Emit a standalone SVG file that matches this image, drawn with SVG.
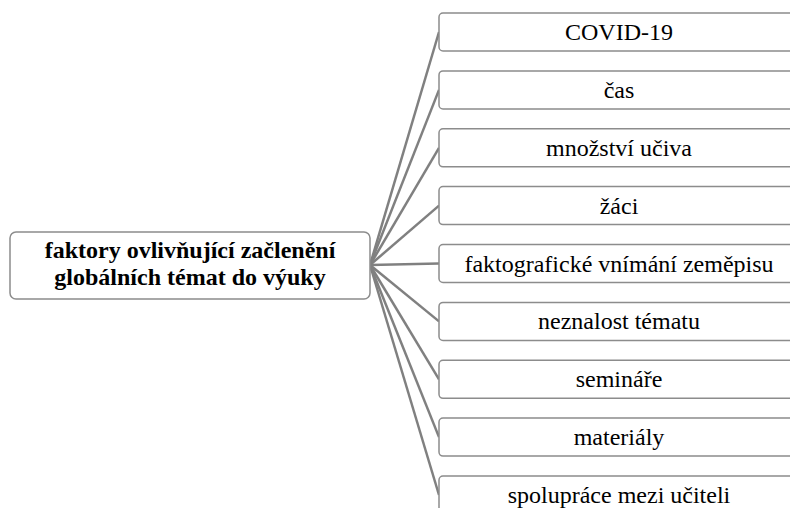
<svg xmlns="http://www.w3.org/2000/svg" width="790" height="508" viewBox="0 0 790 508">
<style>
.box{fill:#fff;stroke:#8c8c8c;stroke-width:1.5}
.t{font-family:"Liberation Serif","Times New Roman",serif;font-size:24px;fill:#000;text-anchor:middle}
.b{font-weight:bold}
.c{stroke:#808080;stroke-width:2.5;fill:none}
</style>
<rect width="790" height="508" fill="#fff"/>
<g id="connectors">
<line class="c" x1="370" y1="265" x2="439" y2="32"/>
<line class="c" x1="370" y1="265" x2="439" y2="89.9"/>
<line class="c" x1="370" y1="265" x2="439" y2="147.8"/>
<line class="c" x1="370" y1="265" x2="439" y2="205.6"/>
<line class="c" x1="370" y1="265" x2="439" y2="263.5"/>
<line class="c" x1="370" y1="265" x2="439" y2="321.4"/>
<line class="c" x1="370" y1="265" x2="439" y2="379.3"/>
<line class="c" x1="370" y1="265" x2="439" y2="437.1"/>
<line class="c" x1="370" y1="265" x2="439" y2="495"/>
</g>
<g id="center">
<rect class="box" x="10" y="232" width="360" height="67" rx="6"/>
<text class="t b" x="190" y="258">faktory ovlivňující začlenění</text>
<text class="t b" x="190" y="285">globálních témat do výuky</text>
</g>
<g id="n1"><rect class="box" x="439" y="13" width="360" height="38" rx="4"/><text class="t" x="619" y="40">COVID-19</text></g>
<g id="n2"><rect class="box" x="439" y="70.9" width="360" height="38" rx="4"/><text class="t" x="619" y="97.9">čas</text></g>
<g id="n3"><rect class="box" x="439" y="128.8" width="360" height="38" rx="4"/><text class="t" x="619" y="155.8">množství učiva</text></g>
<g id="n4"><rect class="box" x="439" y="186.6" width="360" height="38" rx="4"/><text class="t" x="619" y="213.6">žáci</text></g>
<g id="n5"><rect class="box" x="439" y="244.5" width="360" height="38" rx="4"/><text class="t" x="619" y="271.5">faktografické vnímání zeměpisu</text></g>
<g id="n6"><rect class="box" x="439" y="302.4" width="360" height="38" rx="4"/><text class="t" x="619" y="329.4">neznalost tématu</text></g>
<g id="n7"><rect class="box" x="439" y="360.3" width="360" height="38" rx="4"/><text class="t" x="619" y="387.3">semináře</text></g>
<g id="n8"><rect class="box" x="439" y="418.1" width="360" height="38" rx="4"/><text class="t" x="619" y="445.1">materiály</text></g>
<g id="n9"><rect class="box" x="439" y="476" width="360" height="38" rx="4"/><text class="t" x="619" y="503">spolupráce mezi učiteli</text></g>
</svg>
